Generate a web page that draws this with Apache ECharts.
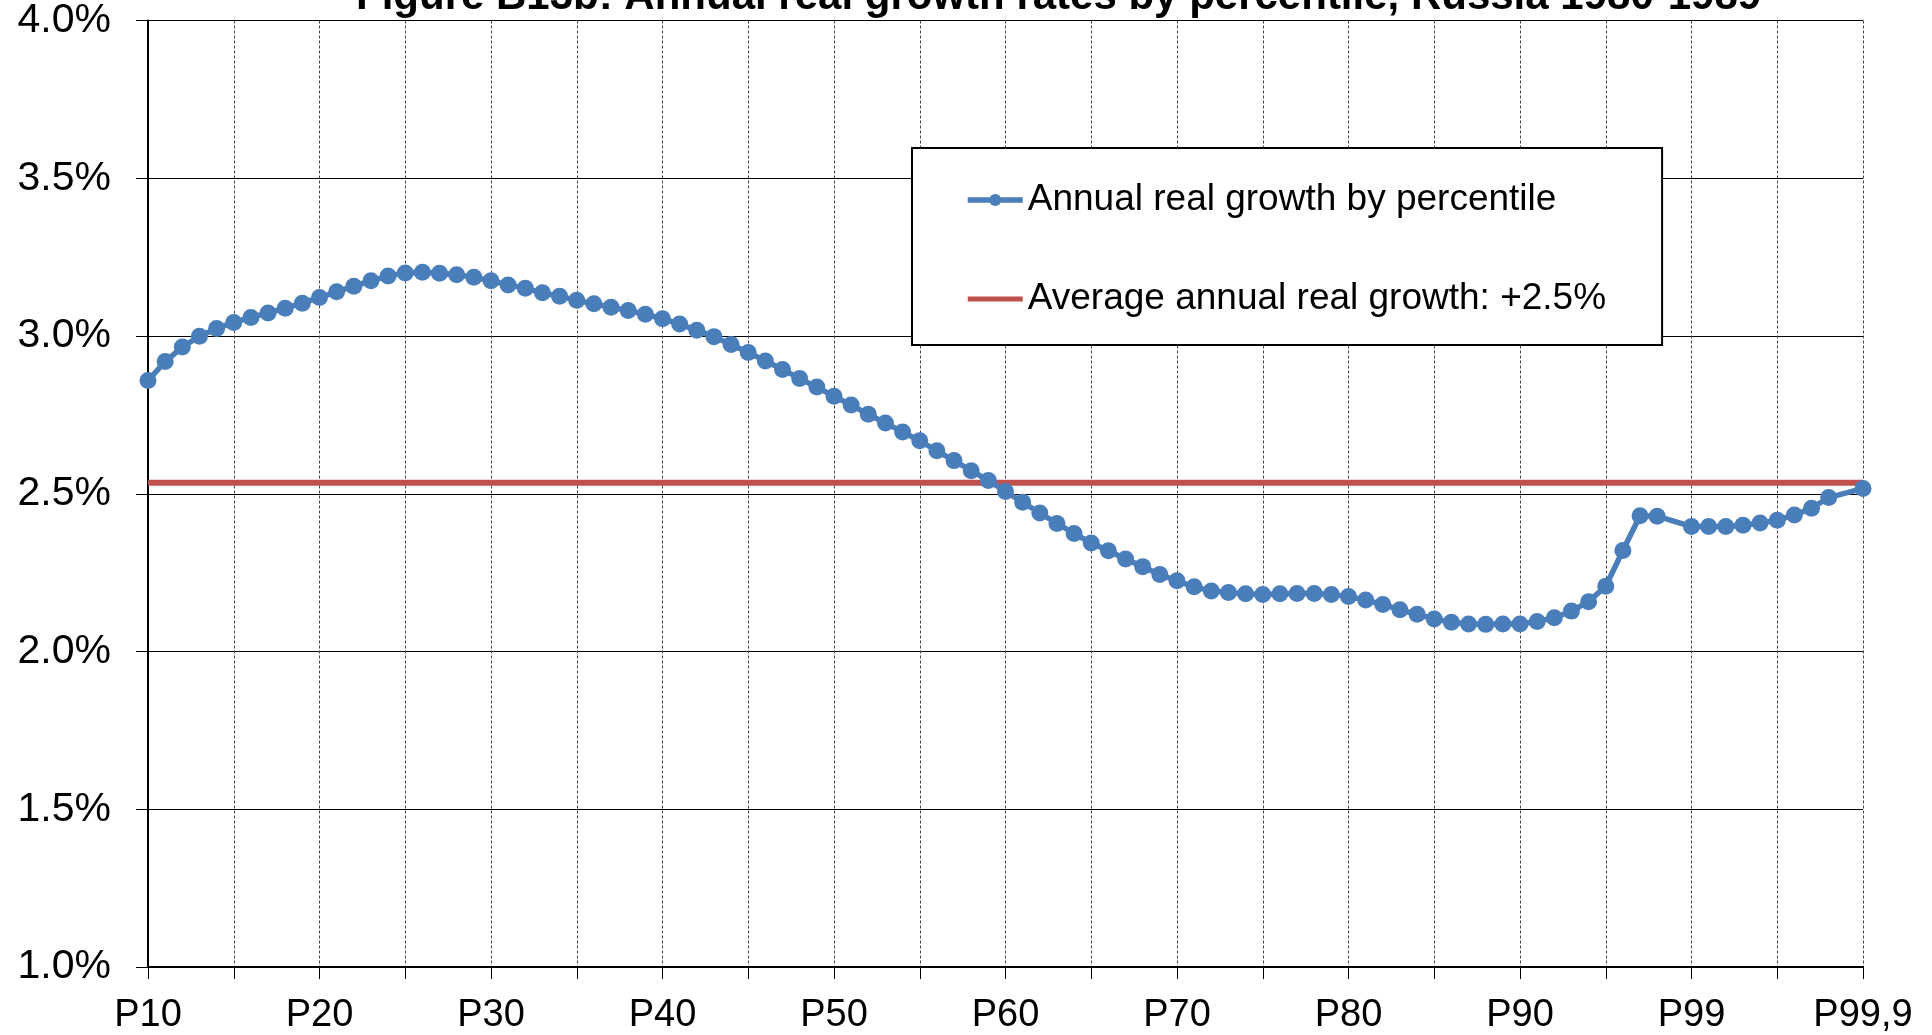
<!DOCTYPE html>
<html>
<head>
<meta charset="utf-8">
<script src="https://cdn.jsdelivr.net/npm/echarts@6/dist/echarts.min.js"></script>
<style>
html,body{margin:0;padding:0;background:#fff;}
#chart{width:1932px;height:1035px;}
</style>
</head>
<body>
<div id="chart"></div>
<script>
// Categories (percentile groups); blanks are empty slots in the source chart
const categories = [
  'P10','P11','P12','P13','P14','P15','P16','P17','P18','P19',
  'P20','P21','P22','P23','P24','P25','P26','P27','P28','P29',
  'P30','P31','P32','P33','P34','P35','P36','P37','P38','P39',
  'P40','P41','P42','P43','P44','P45','P46','P47','P48','P49',
  'P50','P51','P52','P53','P54','P55','P56','P57','P58','P59',
  'P60','P61','P62','P63','P64','P65','P66','P67','P68','P69',
  'P70','P71','P72','P73','P74','P75','P76','P77','P78','P79',
  'P80','P81','P82','P83','P84','P85','P86','P87','P88','P89',
  'P90','P91','P92','P93','P94','P95','P96','P97','P98',' ',
  'P99','P99,1','P99,2','P99,3','P99,4','P99,5','P99,6','P99,7','P99,8','  ',
  'P99,9'
];

// Annual real growth by percentile (%)
const growthByPercentile = [
  2.859, 2.919, 2.965, 2.999, 3.024, 3.043, 3.059, 3.073, 3.088, 3.104,
  3.122, 3.140, 3.158, 3.175, 3.190, 3.200, 3.202, 3.199, 3.194, 3.186,
  3.175, 3.162, 3.151, 3.137, 3.126, 3.113, 3.102, 3.091, 3.081, 3.069,
  3.055, 3.038, 3.018, 2.998, 2.973, 2.948, 2.921, 2.894, 2.865, 2.838,
  2.809, 2.781, 2.752, 2.724, 2.696, 2.668, 2.636, 2.605, 2.573, 2.542,
  2.507, 2.473, 2.439, 2.406, 2.374, 2.344, 2.319, 2.293, 2.269, 2.244,
  2.224, 2.205, 2.192, 2.187, 2.183, 2.181, 2.183, 2.184, 2.184, 2.181,
  2.174, 2.163, 2.149, 2.132, 2.118, 2.103, 2.093, 2.087, 2.086, 2.087,
  2.087, 2.095, 2.107, 2.128, 2.158, 2.207, 2.320, 2.430, 2.429, null,
  2.396, 2.396, 2.396, 2.400, 2.407, 2.416, 2.433, 2.454, 2.488, null,
  2.517
];

// Average annual real growth (%), drawn from first to last category
const averageGrowth = [
  ['P10', 2.535],
  ['P99,9', 2.535]
];

const seriesNames = ['Annual real growth by percentile', 'Average annual real growth: +2.5%'];
const titleText = 'Figure B13b: Annual real growth rates by percentile, Russia 1980-1989';

const FONT = "'Liberation Sans', Arial, sans-serif";
const chart = echarts.init(document.getElementById('chart'), null, {renderer: 'canvas'});

chart.setOption({
  backgroundColor: '#ffffff',
  animation: false,
  title: {
    text: titleText,
    left: 351,
    top: -29,
    textStyle: {fontFamily: FONT, fontSize: 42, fontWeight: 'bold', color: '#000'}
  },
  grid: {left: 148, right: 69, top: 18.5, bottom: 63, containLabel: false},
  legend: {
    orient: 'vertical',
    left: 912,
    top: 148,
    data: [
      {name: seriesNames[0]},
      {name: seriesNames[1], icon: 'path://M0,0 L55,0 L55,5 L0,5 Z'}
    ],
    padding: [32, 56, 26, 53],
    itemGap: 59,
    itemWidth: 55,
    itemHeight: 15,
    lineStyle: {width: 'inherit'},
    backgroundColor: '#fff',
    borderColor: '#000',
    borderWidth: 2,
    textStyle: {fontFamily: FONT, fontSize: 37, color: '#000', lineHeight: 40}
  },
  xAxis: {
    type: 'category',
    data: categories,
    boundaryGap: false,
    axisLine: {show: true, lineStyle: {color: '#000', width: 2}},
    axisTick: {show: true, length: 12, interval: (i) => i % 5 === 0, lineStyle: {color: '#000', width: 1}},
    axisLabel: {
      interval: (i) => i % 10 === 0,
      fontFamily: FONT, fontSize: 38, color: '#000', margin: 30
    },
    splitLine: {show: true, interval: (i) => i % 5 === 0, lineStyle: {color: '#444', width: 1, type: [3, 2]}}
  },
  yAxis: {
    type: 'value',
    min: 1, max: 4, interval: 0.5,
    axisLine: {show: true, lineStyle: {color: '#000', width: 2}},
    axisTick: {show: true, length: 12, lineStyle: {color: '#000', width: 1}},
    axisLabel: {
      formatter: (v) => v.toFixed(1) + '%',
      fontFamily: FONT, fontSize: 41, color: '#000', margin: 37
    },
    splitLine: {show: true, lineStyle: {color: '#000', width: 1}}
  },
  series: [
    {
      name: seriesNames[1],
      type: 'line',
      data: averageGrowth,
      symbol: 'none',
      z: 2,
      lineStyle: {color: '#C0504D', width: 6},
      itemStyle: {color: '#C0504D'}
    },
    {
      name: seriesNames[0],
      type: 'line',
      data: growthByPercentile,
      connectNulls: true,
      symbol: 'circle',
      symbolSize: 17,
      showAllSymbol: true,
      z: 3,
      lineStyle: {color: '#4A7EBB', width: 5.5},
      itemStyle: {color: '#4A7EBB', borderWidth: 0}
    }
  ]
});
</script>
</body>
</html>
